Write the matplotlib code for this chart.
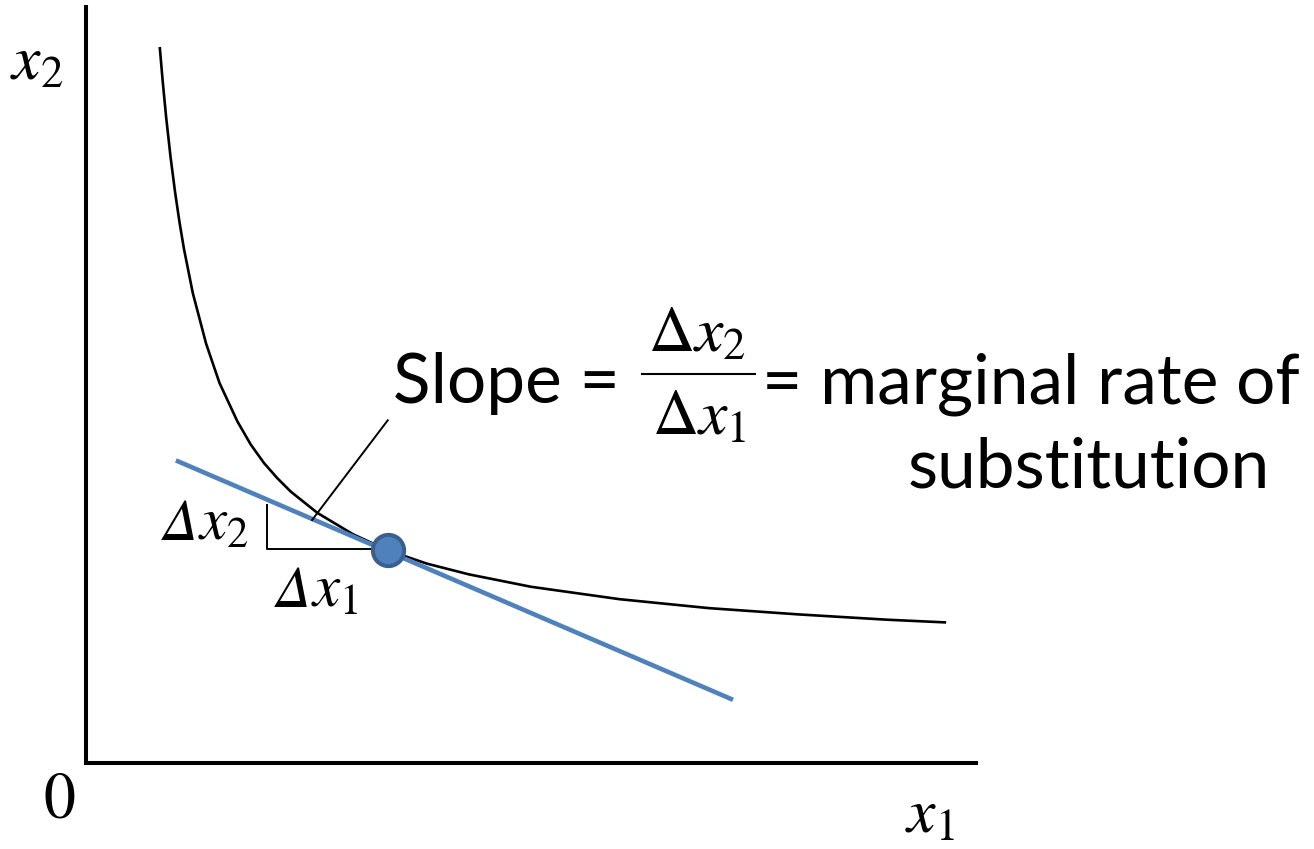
import matplotlib
matplotlib.use("Agg")
import matplotlib.pyplot as plt
import numpy as np

plt.rcParams['mathtext.fontset'] = 'stix'

curve_x1 = [0.83, 0.86, 0.90, 0.95, 1.00, 1.05, 1.10, 1.20, 1.35, 1.50, 1.70,
            1.85, 2.00, 2.15, 2.30, 2.60, 3.00, 3.39, 3.83, 4.30, 5.00, 6.00,
            7.00, 8.00, 9.00, 9.65]
curve_x2 = [8.03, 7.68, 7.26, 6.81, 6.42, 6.08, 5.78, 5.28, 4.71, 4.27, 3.84,
            3.58, 3.37, 3.20, 3.05, 2.81, 2.57, 2.39, 2.24, 2.12, 1.98, 1.84,
            1.74, 1.67, 1.61, 1.58]

# tangent (budget) line end points and the point of tangency
tangent_x1 = [1.01, 7.27]
tangent_x2 = [3.40, 0.71]
point_x1, point_x2 = 3.39, 2.39

# little slope triangle
tri_x1 = [2.03, 2.03, 3.39]
tri_x2 = [2.90, 2.40, 2.40]

# leader from the text down to the tangent line
leader_x1 = [2.54, 3.39]
leader_x2 = [2.73, 3.85]

W, H = 1314, 849
fig = plt.figure(figsize=(W / 100, H / 100), dpi=100)
ax = fig.add_axes([86 / W, 86 / H, 890 / W, 756 / H])
ax.set_xlim(0, 10)
ax.set_ylim(0, 756 / 89)
for s in ['top', 'right']:
    ax.spines[s].set_visible(False)
for s in ['left', 'bottom']:
    ax.spines[s].set_linewidth(2.9)
    ax.spines[s].set_capstyle('projecting')
ax.set_xticks([])
ax.set_yticks([])


def px(x, y):
    # pixel position on the page -> axis units
    return (x - 86) / 89, (763 - y) / 89


blue = '#4F81BD'
ax.plot(curve_x1, curve_x2, color='black', lw=1.9, clip_on=False)
ax.plot(tangent_x1, tangent_x2, color=blue, lw=3.3, solid_capstyle='butt')
ax.plot(tri_x1, tri_x2, color='black', lw=1.4)
ax.plot(leader_x1, leader_x2, color='black', lw=1.4)
ax.plot([point_x1], [point_x2], 'o', ms=22.5, mfc=blue, mec='#3A5F8E',
        mew=2.9, zorder=5)

serif = dict(color='black', va='baseline', ha='left')
ax.text(*px(10, 80), r'$x_2$', fontsize=46, **serif)
ax.text(*px(43, 818), r'$0$', fontsize=46, **serif)
ax.text(*px(905, 833), r'$x_1$', fontsize=46, **serif)

# slanted deltas next to the triangle (mathtext keeps capital Greek upright)
delta = dict(family='STIXGeneral', style='italic', fontsize=42, **serif)
ax.text(*px(163, 540), 'Δ', **delta)
ax.text(*px(198, 540), r'$x_2$', fontsize=44, **serif)
ax.text(*px(276, 607), 'Δ', **delta)
ax.text(*px(311, 607), r'$x_1$', fontsize=44, **serif)

# the fraction, built by hand
ax.text(*px(648, 352), r'$\Delta x_2$', fontsize=46, **serif)
ax.text(*px(652, 435), r'$\Delta x_1$', fontsize=46, **serif)
fx0, fy = px(642, 374)
fx1, _ = px(755, 374)
ax.plot([fx0, fx1], [fy, fy], color='black', lw=1.5, clip_on=False)

sans = dict(color='black', va='baseline', ha='left', family='Lato', fontsize=50)
ax.text(*px(393, 403), 'Slope =', **sans)
ax.text(*px(762, 403), '= marginal rate of', **sans)
ax.text(*px(908, 487), 'substitution', **sans)

fig.savefig('out.png', dpi=100)
